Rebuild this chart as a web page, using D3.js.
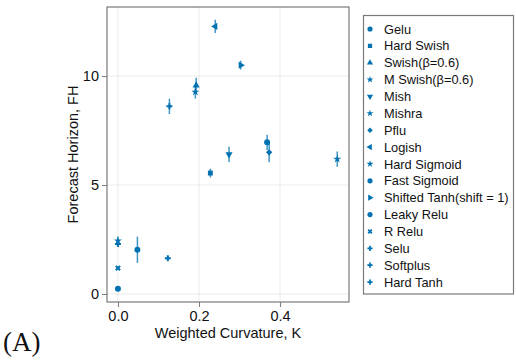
<!DOCTYPE html>
<html><head><meta charset="utf-8">
<script src="https://cdn.jsdelivr.net/npm/d3@7"></script>
<style>
body{margin:0;background:#fff;}
svg{display:block;font-family:"Liberation Sans",Arial,sans-serif;}
</style></head>
<body>
<svg id="chart" width="516" height="360"></svg>
<script>
const names = ["Gelu","Hard Swish","Swish(β=0.6)","M Swish(β=0.6)","Mish","Mishra","Pflu","Logish","Hard Sigmoid","Fast Sigmoid","Shifted Tanh(shift = 1)","Leaky Relu","R Relu","Selu","Softplus","Hard Tanh"];
const curvature = [0.368,0.228,0.193,0.191,0.274,0.541,0.373,0.240,0.0,0.048,0.303,0.0,0.0,0.127,0.123,0.0];
const horizon   = [6.96,5.55,9.57,9.27,6.41,6.19,6.50,12.28,2.44,2.03,10.50,0.24,1.19,8.61,1.64,2.29];
const horizonErr= [0.35,0.20,0.35,0.30,0.35,0.35,0.45,0.30,0.20,0.60,0.20,0.08,0.08,0.35,0.08,0.10];
const markers = ["circle","rect","utri","star5","dtri","star4","diamond","ltri","star8","hexagon","rtri","octagon","xcross","cross","cross","cross"];
const xTicks = [0.0,0.2,0.4];
const yTicks = [0,5,10];

const color = "#0072B2";
const svg = d3.select("#chart");
const L=107,R=349,T=7,B=302;
const x = d3.scaleLinear().domain([-0.027,0.570]).range([L,R]);
const y = d3.scaleLinear().domain([-0.367,13.17]).range([B,T]);

function sym(m){
  const map={circle:[d3.symbolCircle,0],rect:[d3.symbolSquare,0],utri:[d3.symbolTriangle,0],
    dtri:[d3.symbolTriangle,180],ltri:[d3.symbolTriangle,-90],rtri:[d3.symbolTriangle,90],
    star5:[d3.symbolStar,0],star4:[d3.symbolStar,0],star8:[d3.symbolStar,0],diamond:[d3.symbolSquare,45],
    hexagon:[d3.symbolCircle,0],octagon:[d3.symbolCircle,0],xcross:[d3.symbolCross,45],cross:[d3.symbolCross,0]};
  return map[m];
}
function sizeOf(m){
  return {circle:28,rect:24,utri:22,dtri:22,ltri:22,rtri:22,star5:20,star4:20,star8:20,diamond:20,hexagon:28,octagon:28,xcross:20,cross:20}[m];
}

// grid
const g = svg.append("g");
g.selectAll(".gx").data(xTicks).join("line").attr("x1",d=>x(d)).attr("x2",d=>x(d)).attr("y1",T).attr("y2",B)
  .attr("stroke","#000").attr("stroke-opacity",0.08).attr("stroke-width",1);
g.selectAll(".gy").data(yTicks).join("line").attr("y1",d=>y(d)).attr("y2",d=>y(d)).attr("x1",L).attr("x2",R)
  .attr("stroke","#000").attr("stroke-opacity",0.08).attr("stroke-width",1);

// frame
svg.append("rect").attr("x",L).attr("y",T).attr("width",R-L).attr("height",B-T)
  .attr("fill","none").attr("stroke","#7a7a7a").attr("stroke-width",1.2);

// axes
const xa = svg.append("g").attr("transform",`translate(0,${B})`)
  .call(d3.axisBottom(x).tickValues(xTicks).tickFormat(d3.format(".1f")).tickSize(5).tickPadding(4));
const ya = svg.append("g").attr("transform",`translate(${L},0)`)
  .call(d3.axisLeft(y).tickValues(yTicks).tickFormat(d3.format("d")).tickSize(5).tickPadding(3));
[xa,ya].forEach(a=>{a.select(".domain").remove();
  a.selectAll("line").attr("stroke","#7a7a7a");
  a.selectAll("text").attr("font-size",14.5).attr("fill","#111").attr("font-family","Liberation Sans, Arial, sans-serif");});

// error bars
const idx = d3.range(names.length);
svg.append("g").selectAll("line").data(idx).join("line")
  .attr("x1",i=>x(curvature[i])).attr("x2",i=>x(curvature[i]))
  .attr("y1",i=>y(horizon[i]-horizonErr[i])).attr("y2",i=>y(horizon[i]+horizonErr[i]))
  .attr("stroke",color).attr("stroke-opacity",0.75).attr("stroke-width",1.5);

// markers
svg.append("g").selectAll("path").data(idx).join("path")
  .attr("d",i=>d3.symbol().type(sym(markers[i])[0]).size(sizeOf(markers[i]))())
  .attr("transform",i=>`translate(${x(curvature[i])},${y(horizon[i])}) rotate(${sym(markers[i])[1]})`)
  .attr("fill",color);

// axis labels
svg.append("text").attr("x",(L+R)/2).attr("y",338).attr("text-anchor","middle")
  .attr("font-size",14.5).attr("fill","#111").text("Weighted Curvature, K");
svg.append("text").attr("transform",`translate(78,${(T+B)/2}) rotate(-90)`).attr("text-anchor","middle")
  .attr("font-size",14.5).attr("fill","#111").text("Forecast Horizon, FH");

// (A)
svg.append("text").attr("x",3).attr("y",351).attr("font-family","Liberation Serif, Times New Roman, serif")
  .attr("font-size",27).attr("fill","#111").text("(A)");

// legend
const lg = svg.append("g");
lg.append("rect").attr("x",363.5).attr("y",15.5).attr("width",150).attr("height",278.5)
  .attr("fill","#fff").attr("stroke","#7a7a7a").attr("stroke-width",1.2);
const items = lg.selectAll("g.item").data(idx).join("g").attr("class","item")
  .attr("transform",i=>`translate(370,${29+i*16.87})`);
items.append("path").attr("d",i=>d3.symbol().type(sym(markers[i])[0]).size(sizeOf(markers[i])*0.75)())
  .attr("transform",i=>`rotate(${sym(markers[i])[1]})`).attr("fill",color);
items.append("text").attr("x",14).attr("dy","0.36em").attr("font-size",12.8).attr("fill","#111").text(i=>names[i]);
</script>
</body></html>
